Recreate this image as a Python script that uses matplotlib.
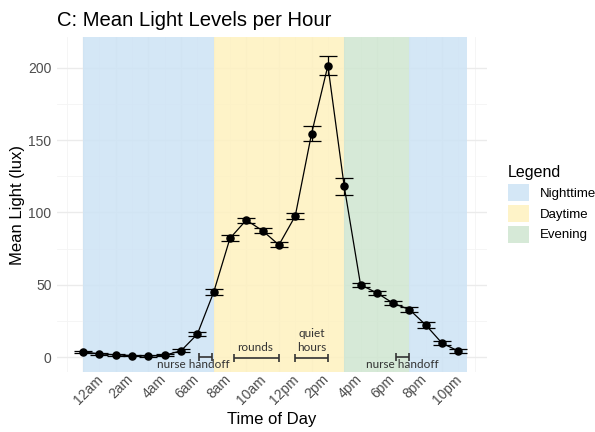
import matplotlib
matplotlib.use("Agg")
import matplotlib.pyplot as plt
from matplotlib.patches import Patch
from matplotlib.transforms import ScaledTranslation
import numpy as np

plt.rcParams['font.family'] = ['Liberation Sans', 'DejaVu Sans']

# ---- data ----
hours = list(range(24))
mean_light = [3.5, 2.2, 1.5, 1.0, 0.6, 1.2, 4.3, 15.8, 44.8, 82.1, 94.7, 87.3,
              77.5, 97.5, 154.5, 201.5, 118.0, 50.0, 44.3, 37.2, 32.8, 22.1, 9.5, 4.1]
err = [1.0, 0.8, 0.6, 0.5, 0.5, 0.6, 1.0, 1.5, 2.0, 2.0, 1.7, 1.7,
       1.7, 2.3, 5.0, 6.5, 6.0, 1.5, 1.5, 1.5, 1.8, 2.0, 1.5, 1.2]

tick_hours = [0, 2, 4, 6, 8, 10, 12, 14, 16, 18, 20, 22]
tick_labels = ['12am', '2am', '4am', '6am', '8am', '10am', '12pm', '2pm', '4pm', '6pm', '8pm', '10pm']

periods = ['Nighttime', 'Daytime', 'Evening', 'Nighttime']
period_start = [0, 8, 16, 20]
period_end = [8, 16, 20, 23.5]
period_colors = {'Nighttime': '#cde3f5', 'Daytime': '#fef1bf', 'Evening': '#cfe6d0'}

ann_labels = ['nurse handoff', 'rounds', 'quiet\nhours', 'nurse handoff']
ann_start = [7.1, 9.25, 13.0, 19.2]
ann_end = [7.9, 12.0, 15.0, 19.95]
ann_bar_y = [0.0, -1.0, -0.5, 0.0]
ann_text_x = [6.75, 10.55, 14.0, 19.55]
ann_text_y = [-5.5, 6.5, 11.5, -5.5]

# ---- figure ----
W, H = 595, 432
fig = plt.figure(figsize=(W / 100, H / 100), dpi=100)
ax = fig.add_axes([57 / W, (H - 372.2) / H, (487 - 57) / W, (372.2 - 37.4) / H])

ax.set_xlim(-1.6, 24.75)
ax.set_ylim(-10.5, 221)

# grid
ax.set_xticks(tick_hours)
ax.set_xticks([h for h in hours if h % 2 == 1] + [-1, 24], minor=True)
ax.set_yticks([0, 50, 100, 150, 200])
ax.set_yticks([25, 75, 125, 175], minor=True)
ax.grid(True, which='major', color='#ebebeb', linewidth=1.0, zorder=0)
ax.grid(True, which='minor', color='#f4f4f4', linewidth=0.6, zorder=0)
ax.set_axisbelow(True)
for s in ax.spines.values():
    s.set_visible(False)
ax.tick_params(which='both', length=0)
ax.tick_params(axis='y', pad=4, labelsize=10, labelcolor='#4d4d4d')
ax.tick_params(axis='x', pad=0, labelsize=10, labelcolor='#4d4d4d')

# shaded periods (translucent over grid)
for p, s, e in zip(periods, period_start, period_end):
    ax.axvspan(s, e, ymin=0, ymax=1, color=period_colors[p], alpha=0.85,
               linewidth=0, zorder=1)

# line, error bars, points
ax.plot(hours, mean_light, color='black', linewidth=0.9, zorder=3)
ax.errorbar(hours, mean_light, yerr=err, fmt='none', ecolor='black',
            elinewidth=0.9, capsize=6.5, capthick=0.9, zorder=4)
ax.scatter(hours, mean_light, s=26, color='black', zorder=5)

# annotations
for lab, s, e, by, tx, ty in zip(ann_labels, ann_start, ann_end, ann_bar_y, ann_text_x, ann_text_y):
    ax.errorbar([(s + e) / 2], [by], xerr=[[(e - s) / 2], [(e - s) / 2]], fmt='none',
                ecolor='#333333', elinewidth=1.2, capsize=2.8, capthick=1.2, zorder=6)
    ax.text(tx, ty, lab, ha='center', va='center', fontsize=8.5, color='#333333',
            family=['Lato', 'DejaVu Sans'], linespacing=1.3, zorder=7)

ax.set_xticklabels(tick_labels, rotation=45, ha='center', va='top')
for lbl in ax.get_xticklabels():
    lbl.set_transform(lbl.get_transform() + ScaledTranslation(4 / 72, 0, fig.dpi_scale_trans))

ax.set_xlabel('Time of Day', fontsize=12, labelpad=4)
ax.set_ylabel('Mean Light (lux)', fontsize=12, labelpad=2)

fig.text(57 / W, 1 - 20 / H, 'C: Mean Light Levels per Hour', fontsize=14.6,
         ha='left', va='center')

handles = [Patch(facecolor=period_colors[k], edgecolor='none', alpha=0.85)
           for k in ['Nighttime', 'Daytime', 'Evening']]
leg = fig.legend(handles, ['Nighttime', 'Daytime', 'Evening'], title='Legend',
                 loc='upper left', bbox_to_anchor=(496 / W, 1 - 153 / H),
                 frameon=False, fontsize=9.5, title_fontsize=11.5,
                 handlelength=1.6, handleheight=1.6, labelspacing=0.3,
                 handletextpad=0.8, alignment='left')

fig.savefig('out.png', dpi=100)
